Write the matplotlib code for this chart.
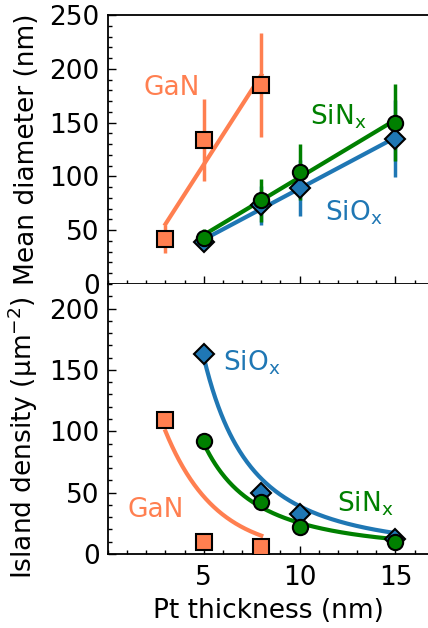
import numpy as np
import matplotlib
matplotlib.use('Agg')
import matplotlib.pyplot as plt
from matplotlib.ticker import MultipleLocator

# colours
c_gan = '#FF7F50'
c_sin = 'green'
c_sio = '#1f77b4'

# top panel: mean diameter (nm)
gan_x = [3, 5, 8]
gan_d = [42, 134, 185]
gan_derr = [13, 38, 48]

sin_x = [5, 8, 10, 15]
sin_d = [43, 78, 104, 150]
sin_derr = [8, 20, 26, 36]

sio_x = [5, 8, 10, 15]
sio_d = [39, 73, 89, 135]
sio_derr = [6, 18, 26, 36]

# bottom panel: island density (um^-2)
gan_n = [109, 10, 6]
sin_n = [92, 42, 22, 10]
sio_n = [163, 50, 33, 12]

# fit curves
sio_fit = (4270, 2.04)   # A * x^-n
sin_fit = (1712, 1.83)   # A * x^-n
gan_fit = (100, 0.38)    # A * exp(-k (x - 3))

fs = 19
plt.rcParams['font.size'] = fs
plt.rcParams['font.family'] = 'DejaVu Sans'

fig = plt.figure(figsize=(4.28, 6.28), dpi=100)
ax1 = fig.add_axes([108/428, 1 - 284/628, 320/428, 269/628])
ax2 = fig.add_axes([108/428, 1 - 554/628, 320/428, 270/628])

ms = 11
mew = 1.5
lw = 3

# ---- top
for x, y, e, col, mk in [(sio_x, sio_d, sio_derr, c_sio, 'D'),
                         (sin_x, sin_d, sin_derr, c_sin, 'o'),
                         (gan_x, gan_d, gan_derr, c_gan, 's')]:
    p = np.polyfit(x, y, 1)
    xx = np.array([min(x), max(x)])
    ax1.plot(xx, np.polyval(p, xx), color=col, lw=lw, zorder=2)
    ax1.errorbar(x, y, yerr=e, fmt=mk, color=col, ecolor=col, elinewidth=2.5,
                 capsize=0, ms=ms if mk != 'D' else ms - 1, mec='black', mew=mew, zorder=3)

ax1.text(3.3, 182, 'GaN', color=c_gan, ha='center', va='center', fontsize=fs)
ax1.text(12.0, 155, 'SiN$_\\mathregular{x}$', color=c_sin, ha='center', va='center', fontsize=fs)
ax1.text(12.8, 66, 'SiO$_\\mathregular{x}$', color=c_sio, ha='center', va='center', fontsize=fs)

ax1.set_xlim(0, 16.7)
ax1.set_ylim(0, 250)
ax1.yaxis.set_major_locator(MultipleLocator(50))
ax1.yaxis.set_minor_locator(MultipleLocator(10))
ax1.set_xticks([5, 10, 15])
ax1.xaxis.set_minor_locator(MultipleLocator(1))
ax1.tick_params(labelbottom=False)
ax1.spines['right'].set_visible(False)
ax1.set_ylabel('Mean diameter (nm)')
ax1.yaxis.set_label_coords(-0.2125, 0.5)

# ---- bottom
xs = np.linspace(5, 15, 200)
ax2.plot(xs, sio_fit[0] * xs ** -sio_fit[1], color=c_sio, lw=lw, zorder=2)
ax2.plot(sio_x, sio_n, 'D', color=c_sio, ms=ms - 1, mec='black', mew=mew, zorder=3)
ax2.plot(xs, sin_fit[0] * xs ** -sin_fit[1], color=c_sin, lw=lw, zorder=2)
ax2.plot(sin_x, sin_n, 'o', color=c_sin, ms=ms, mec='black', mew=mew, zorder=3)
xg = np.linspace(3, 8, 200)
ax2.plot(xg, gan_fit[0] * np.exp(-gan_fit[1] * (xg - 3)), color=c_gan, lw=lw, zorder=2)
ax2.plot(gan_x, gan_n, 's', color=c_gan, ms=ms, mec='black', mew=mew, zorder=3)

ax2.text(7.5, 156, 'SiO$_\\mathregular{x}$', color=c_sio, ha='center', va='center', fontsize=fs)
ax2.text(13.4, 41, 'SiN$_\\mathregular{x}$', color=c_sin, ha='center', va='center', fontsize=fs)
ax2.text(2.5, 36, 'GaN', color=c_gan, ha='center', va='center', fontsize=fs)

ax2.set_xlim(0, 16.7)
ax2.set_ylim(0, 220)
ax2.yaxis.set_major_locator(MultipleLocator(50))
ax2.yaxis.set_minor_locator(MultipleLocator(10))
ax2.set_xticks([5, 10, 15])
ax2.xaxis.set_minor_locator(MultipleLocator(1))
ax2.spines['right'].set_visible(False)
ax2.spines['top'].set_visible(False)
ax2.set_ylabel('Island density (µm$^{-2}$)')
ax2.yaxis.set_label_coords(-0.2125, 0.43)
ax2.set_xlabel('Pt thickness (nm)', labelpad=5)

for ax in (ax1, ax2):
    ax.tick_params(which='both', direction='in', top=False, right=False)
    ax.tick_params(which='major', length=6, width=1)
    ax.tick_params(which='minor', length=3, width=1)
    ax.tick_params(axis='x', which='major', pad=8)
    ax.tick_params(axis='y', which='major', pad=6)
    for s in ax.spines.values():
        s.set_linewidth(1.3)

fig.savefig('out.png', dpi=100)
